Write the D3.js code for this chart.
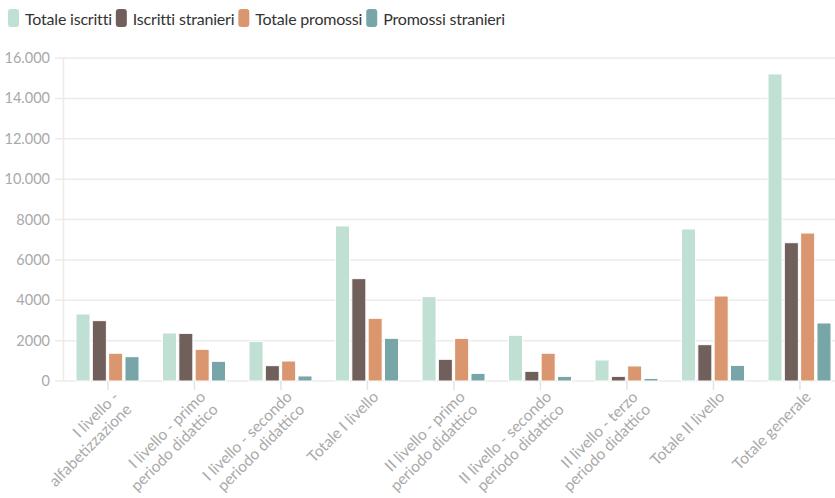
<!DOCTYPE html>
<html><head><meta charset="utf-8">
<script src="https://cdn.jsdelivr.net/npm/d3@7"></script>
<style>body{margin:0;background:#fff;overflow:hidden}svg{display:block;font-family:Lato,"Open Sans",sans-serif}</style>
</head><body><svg id="c" width="835" height="498"></svg>
<script>
const categories = [
  ["I livello -","alfabetizzazione"],
  ["I livello - primo","periodo didattico"],
  ["I livello - secondo","periodo didattico"],
  ["Totale I livello"],
  ["II livello - primo","periodo didattico"],
  ["II livello - secondo","periodo didattico"],
  ["II livello - terzo","periodo didattico"],
  ["Totale II livello"],
  ["Totale generale"]
];
const seriesNames = ["Totale iscritti","Iscritti stranieri","Totale promossi","Promossi stranieri"];
const totaleIscritti    = [3320, 2380, 1965, 7680, 4180, 2265, 1040, 7530, 15210];
const iscrittiStranieri = [2990, 2360, 760, 5070, 1075, 480, 230, 1800, 6850];
const totalePromossi    = [1375, 1570, 990, 3105, 2110, 1375, 745, 4210, 7330];
const promossiStranieri = [1205, 975, 250, 2115, 380, 230, 130, 775, 2875];
const colors = ["#bfe0d3","#715f5b","#d9966f","#78a6a8"];
const yTicks = [0,2000,4000,6000,8000,10000,12000,14000,16000];
const yTickLabels = ["0","2000","4000","6000","8000","10.000","12.000","14.000","16.000"];

const series = [totaleIscritti, iscrittiStranieri, totalePromossi, promossiStranieri];
const svg = d3.select("#c");
const left = 64.7, step = 86.5;
const x0 = d3.scaleBand().domain(d3.range(categories.length)).range([left, left + step*categories.length]).padding(0);
const x1 = d3.scaleBand().domain(d3.range(4)).range([11.3, 74.3]).paddingInner(0.14).paddingOuter(0);
const y = d3.scaleLinear().domain([0,16000]).range([381,58]);

// grid
const grid = svg.append("g");
grid.selectAll("line").data(yTicks).join("line")
  .attr("x1",55).attr("x2",835).attr("y1",d=>y(d)).attr("y2",d=>y(d))
  .attr("stroke","#ebebeb").attr("stroke-width",1.5);
svg.append("line").attr("x1",63.5).attr("x2",63.5).attr("y1",y(16000)).attr("y2",y(0)).attr("stroke","#ebebeb").attr("stroke-width",1.5);

// y labels
svg.append("g").selectAll("text").data(yTicks).join("text")
  .attr("x",50).attr("y",d=>y(d)).attr("dy","0.35em").attr("text-anchor","end")
  .attr("fill","#a9a9a9").attr("font-size",14.5).text((d,i)=>yTickLabels[i]);

// x ticks
svg.append("g").selectAll("line").data(d3.range(categories.length)).join("line")
  .attr("x1",i=>x0(i)+x0.bandwidth()/2).attr("x2",i=>x0(i)+x0.bandwidth()/2)
  .attr("y1",381).attr("y2",390).attr("stroke","#e3e3e3").attr("stroke-width",1.5);

// bars
const groups = svg.append("g").selectAll("g").data(d3.range(categories.length)).join("g")
  .attr("transform",i=>`translate(${x0(i)},0)`);
groups.selectAll("rect").data(i=>series.map((s,k)=>({k, v:s[i]}))).join("rect")
  .attr("x",d=>x1(d.k)).attr("width",x1.bandwidth())
  .attr("y",d=>y(d.v)).attr("height",d=>y(0)-y(d.v))
  .attr("fill",d=>colors[d.k]).attr("stroke","#fff").attr("stroke-width",1);

// x labels
const xl = svg.append("g").selectAll("text").data(categories).join("text")
  .attr("transform",(d,i)=>`translate(${x0(i)+x0.bandwidth()/2+4},${390}) rotate(-45)`)
  .attr("text-anchor","end").attr("fill","#a9a9a9").attr("font-size",15.5);
xl.each(function(d){
  const t = d3.select(this);
  d.forEach((line,j)=>t.append("tspan").attr("x",0).attr("dy", j===0 ? "0.72em" : "1.15em").text(line));
});

// legend
const lg = svg.append("g");
let lx = 8;
seriesNames.forEach((n,k)=>{
  lg.append("rect").attr("x",lx).attr("y",9).attr("width",11).attr("height",18).attr("rx",3).attr("fill",colors[k]);
  const t = lg.append("text").attr("x",lx+17).attr("y",25).attr("font-size",16).attr("letter-spacing",-0.2).attr("fill","#333").text(n);
  lx += 17 + t.node().getComputedTextLength() + 4;
});
</script></body></html>
